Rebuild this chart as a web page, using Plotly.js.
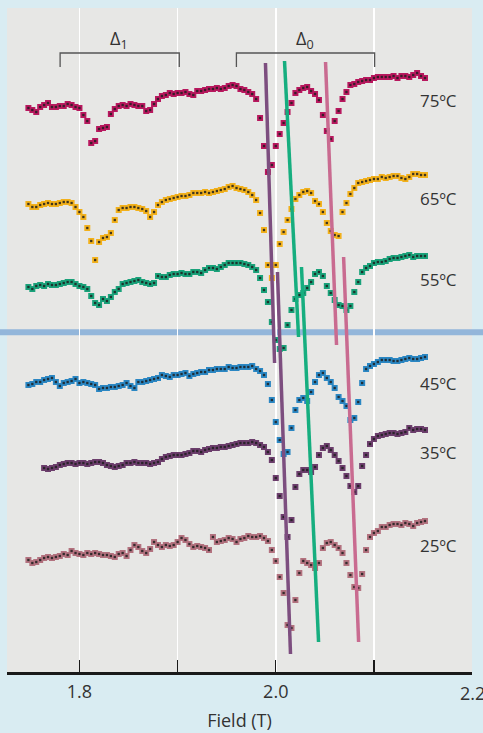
<!DOCTYPE html>
<html><head><meta charset="utf-8">
<script src="https://cdn.plot.ly/plotly-3.0.1.min.js"></script>
<style>html,body{margin:0;padding:0;background:#d9ecf2;}</style>
</head><body><div id="chart" style="width:483px;height:733px;"></div>
<script>
// Field values (T) at which each spectrum is sampled
const field = [1.748,1.752,1.756,1.760,1.764,1.768,1.772,1.776,1.780,1.784,
1.788,1.792,1.796,1.800,1.804,1.808,1.812,1.816,1.820,1.824,
1.828,1.832,1.836,1.840,1.844,1.848,1.852,1.856,1.860,1.864,
1.868,1.872,1.876,1.880,1.884,1.888,1.892,1.896,1.900,1.904,
1.908,1.912,1.916,1.920,1.924,1.928,1.932,1.936,1.940,1.944,
1.948,1.952,1.956,1.960,1.964,1.968,1.972,1.976,1.980,1.984,
1.988,1.992,1.996,2.000,2.004,2.008,2.012,2.016,2.020,2.024,
2.028,2.032,2.036,2.040,2.044,2.048,2.052,2.056,2.060,2.064,
2.068,2.072,2.076,2.080,2.084,2.088,2.092,2.096,2.100,2.104,
2.108,2.112,2.116,2.120,2.124,2.128,2.132,2.136,2.140,2.144,
2.148,2.152];

// Spectra (vertical position, offset per temperature; larger = lower on page)
const t75 = [108,110,112,107,105,103,107,107,106,106,
104,105,107,108,115,121,143,141,129,128,
127,114,109,106,105,106,104,105,106,106,
111,110,104,99,96,95,93,94,93,93,
92,94,95,91,91,90,89,89,88,89,
88,86,85,86,89,90,92,94,99,118,
146,172,165,146,134,123,112,103,93,90,
88,87,91,94,100,115,131,139,121,111,
99,92,85,84,82,81,80,80,78,77,
77,77,77,76,78,76,76,77,75,73,
76,78];
const t65 = [204,207,207,205,204,203,204,204,203,202,
202,203,207,212,217,228,241,260,242,238,
237,233,220,210,208,208,207,207,208,209,
211,217,212,205,202,200,199,198,197,196,
196,195,193,193,193,192,193,192,191,190,
189,187,186,188,189,190,192,195,200,213,
230,265,278,265,244,232,220,209,199,195,
192,191,193,201,204,212,223,231,235,236,
212,203,194,188,183,182,181,180,179,179,
177,178,177,176,176,178,179,177,174,174,
175,175];
const t55 = [287,289,286,285,286,284,285,285,284,283,
282,282,284,286,287,289,296,303,305,299,
301,297,292,289,284,283,282,281,280,282,
283,284,283,276,277,277,275,274,274,273,
274,274,272,272,273,270,268,268,269,267,
265,263,263,263,263,264,265,267,270,278,
290,302,322,340,349,348,325,310,299,295,
293,288,282,274,272,276,286,293,300,305,
306,310,306,292,282,272,268,266,263,262,
262,261,259,258,258,257,256,255,257,256,
256,256];
const t45 = [385,384,382,382,380,379,378,382,386,383,
382,381,379,383,382,383,384,385,389,388,
388,387,387,386,385,383,386,388,382,382,
381,380,379,378,375,376,377,375,375,374,
373,376,374,373,372,372,370,370,369,369,
369,367,368,368,367,367,367,366,369,371,
375,384,400,422,440,454,452,428,410,400,
398,401,392,382,375,373,378,382,388,397,
401,406,420,418,402,383,369,366,364,362,
360,360,360,361,361,360,359,358,359,359,
358,357];
// 35 °C starts at field[4]
const t35 = [468,469,468,467,465,464,
463,463,464,463,463,464,463,462,462,463,
465,466,467,466,465,463,463,462,463,463,
463,464,463,462,459,457,456,455,455,455,
454,453,451,451,452,450,449,448,448,447,
447,446,445,444,443,443,443,442,443,445,
447,452,460,478,496,517,537,520,487,474,
470,470,472,467,455,448,446,450,455,461,
468,476,486,492,486,466,455,444,439,436,
435,434,433,433,434,433,432,428,430,429,
429,430];
const t25 = [560,563,562,560,558,557,558,557,556,554,
555,551,553,554,555,553,554,553,554,555,
555,556,557,554,553,556,550,545,547,551,
553,549,542,545,547,545,546,545,542,538,
540,544,547,546,547,548,550,537,542,541,
540,538,539,542,539,538,536,537,537,536,
538,541,550,561,577,593,625,628,600,573,
561,563,565,568,563,548,543,542,545,548,
553,563,575,587,588,574,550,537,533,531,
527,527,525,524,524,525,523,524,526,523,
522,521];

const tempLabels = ['75ºC','65ºC','55ºC','45ºC','35ºC','25ºC'];
const labelLevels = [100,198,279,383,452,545];

// Guide lines through the peaks (field, level)
const guideX = [[1.9895,1.9988],[2.0017,2.0150],[2.0089,2.0232],[2.0262,2.0436],[2.0507,2.0619],[2.0691,2.0844]];
const guideY = [[63,363],[272,654],[61,337],[267,642],[62,345],[257,642]];

const seriesColors = ['#b8185e','#f2b11c','#1aa27a','#2b87c3','#6c3e6c','#b3727f'];
const guideColors = ['#7d4e7f','#7d4e7f','#16ae7f','#16ae7f','#c96b90','#c96b90'];

const series = [
  {x: field, y: t75},
  {x: field, y: t65},
  {x: field, y: t55},
  {x: field, y: t45},
  {x: field.slice(4), y: t35},
  {x: field, y: t25}
];

const traces = [];
series.forEach((s, i) => {
  traces.push({x: s.x, y: s.y, mode: 'markers', type: 'scatter', hoverinfo: 'skip',
    marker: {symbol: 'square', size: 6, color: seriesColors[i], line: {width: 0}}});
  traces.push({x: s.x, y: s.y, mode: 'markers', type: 'scatter', hoverinfo: 'skip',
    marker: {symbol: 'square', size: 2.3, color: '#1e1e1e', opacity: 0.85, line: {width: 0}}});
});
guideX.forEach((gx, i) => {
  traces.push({x: gx, y: guideY[i], mode: 'lines', type: 'scatter', hoverinfo: 'skip',
    line: {color: guideColors[i], width: 3.5}});
});

const annotations = tempLabels.map((t, i) => ({
  x: 2.1446, y: labelLevels[i], xref: 'x', yref: 'y', text: t, showarrow: false,
  xanchor: 'left', yanchor: 'middle', font: {size: 17, color: '#333'}
}));
annotations.push({x: 1.8405, y: 39, xref: 'x', yref: 'y', text: 'Δ<sub>1</sub>', showarrow: false,
  font: {size: 18, color: '#333'}});
annotations.push({x: 2.0293, y: 39, xref: 'x', yref: 'y', text: 'Δ<sub>0</sub>', showarrow: false,
  font: {size: 18, color: '#333'}});
annotations.push({x: 1.0, y: -0.0316, xref: 'paper', yref: 'paper', text: '2.2', showarrow: false,
  xanchor: 'center', yanchor: 'middle', font: {size: 18, color: '#333'}});

const layout = {
  width: 483, height: 733,
  margin: {l: 7, r: 11, t: 8, b: 61},
  paper_bgcolor: '#d9ecf2', plot_bgcolor: '#e7e7e5',
  showlegend: false,
  font: {family: 'Open Sans, sans-serif', color: '#333'},
  xaxis: {
    range: [1.7262, 2.1999], tick0: 1.8, dtick: 0.2,
    ticks: 'inside', ticklen: 12, tickwidth: 1.3, tickcolor: '#1a1a1a',
    minor: {dtick: 0.1, tick0: 1.8, ticks: 'inside', ticklen: 12, tickwidth: 1.3, tickcolor: '#1a1a1a',
      showgrid: true, gridcolor: '#ffffff', gridwidth: 1.5},
    showline: true, linecolor: '#1a1a1a', linewidth: 3,
    showgrid: true, gridcolor: '#ffffff', gridwidth: 1.5, zeroline: false,
    tickformat: '.1f', ticklabelstandoff: 1,
    tickfont: {size: 18, color: '#333'},
    title: {text: 'Field (T)', font: {size: 18, color: '#333'}, standoff: 13}
  },
  yaxis: {range: [672, 8], showgrid: false, zeroline: false, showticklabels: false, showline: false},
  shapes: [
    {type: 'rect', xref: 'paper', yref: 'y', x0: -0.05, x1: 1.05, y0: 329.3, y1: 335.3,
      fillcolor: '#93b6da', line: {width: 0}, layer: 'below'},
    {type: 'path', xref: 'x', yref: 'y', path: 'M 1.7803,67 L 1.7803,53 L 1.9017,53 L 1.9017,67',
      line: {color: '#555', width: 1.3}},
    {type: 'path', xref: 'x', yref: 'y', path: 'M 1.9599,67 L 1.9599,53 L 2.1007,53 L 2.1007,67',
      line: {color: '#555', width: 1.3}}
  ],
  annotations: annotations
};

Plotly.newPlot('chart', traces, layout, {displayModeBar: false, staticPlot: true});
</script>
</body></html>
